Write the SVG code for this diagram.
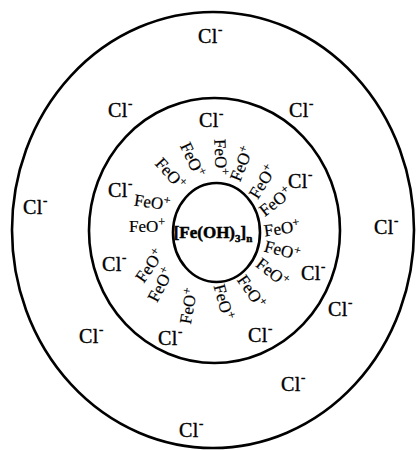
<svg xmlns="http://www.w3.org/2000/svg" width="416" height="450" viewBox="0 0 416 450">
<style>
.ring{fill:none;stroke:#000;stroke-width:2.6}
.cl{font-family:"Liberation Serif","Times New Roman",serif;font-size:20px;fill:#000;stroke:#000;stroke-width:0.4;letter-spacing:0.5px}
.sup{font-size:13px}
.fe{font-family:"Liberation Serif","Times New Roman",serif;font-size:17px;fill:#000;text-anchor:middle;stroke:#000;stroke-width:0.2}
.fsup{font-size:12px}
.core{font-family:"Liberation Serif","Times New Roman",serif;font-size:17px;font-weight:bold;fill:#000;text-anchor:middle;stroke:#000;stroke-width:0.5}
.sub{font-size:11px}
</style>
<rect width="416" height="450" fill="#fff"/>
<g id="outer-shell">
<ellipse class="ring" cx="213" cy="230" rx="201" ry="218"/>
</g>
<g id="middle-shell">
<ellipse class="ring" cx="214.5" cy="230.5" rx="125.5" ry="132.5"/>
</g>
<g id="core">
<ellipse class="ring" cx="216.5" cy="232.5" rx="43.5" ry="49.5" stroke-width="2.2"/>
<text class="core" x="213" y="238">[Fe(OH)<tspan class="sub" dy="4">3</tspan><tspan dy="-4">]</tspan><tspan class="sub" dy="4">n</tspan></text>
</g>
<g id="chloride-ions">
<text class="cl" x="198" y="43">Cl<tspan class="sup" dy="-9">-</tspan></text>
<text class="cl" x="108" y="117">Cl<tspan class="sup" dy="-9">-</tspan></text>
<text class="cl" x="199" y="127">Cl<tspan class="sup" dy="-9">-</tspan></text>
<text class="cl" x="289" y="117">Cl<tspan class="sup" dy="-9">-</tspan></text>
<text class="cl" x="23" y="214">Cl<tspan class="sup" dy="-9">-</tspan></text>
<text class="cl" x="108" y="197">Cl<tspan class="sup" dy="-9">-</tspan></text>
<text class="cl" x="288" y="188">Cl<tspan class="sup" dy="-9">-</tspan></text>
<text class="cl" x="374" y="234">Cl<tspan class="sup" dy="-9">-</tspan></text>
<text class="cl" x="102" y="271">Cl<tspan class="sup" dy="-9">-</tspan></text>
<text class="cl" x="301" y="280">Cl<tspan class="sup" dy="-9">-</tspan></text>
<text class="cl" x="328" y="316">Cl<tspan class="sup" dy="-9">-</tspan></text>
<text class="cl" x="79" y="343">Cl<tspan class="sup" dy="-9">-</tspan></text>
<text class="cl" x="158" y="345">Cl<tspan class="sup" dy="-9">-</tspan></text>
<text class="cl" x="248" y="342">Cl<tspan class="sup" dy="-9">-</tspan></text>
<text class="cl" x="281" y="391">Cl<tspan class="sup" dy="-9">-</tspan></text>
<text class="cl" x="179" y="437">Cl<tspan class="sup" dy="-9">-</tspan></text>
</g>
<g id="ferric-oxy-ions">
<text class="fe" transform="translate(152,203) rotate(8)" y="5">FeO<tspan class="fsup" dy="-6">+</tspan></text>
<text class="fe" transform="translate(147,227)" y="5">FeO<tspan class="fsup" dy="-6">+</tspan></text>
<text class="fe" transform="translate(170,174) rotate(48)" y="5">FeO<tspan class="fsup" dy="-6">+</tspan></text>
<text class="fe" transform="translate(192,160) rotate(65)" y="5">FeO<tspan class="fsup" dy="-6">+</tspan></text>
<text class="fe" transform="translate(220,157) rotate(88)" y="5">FeO<tspan class="fsup" dy="-6">+</tspan></text>
<text class="fe" transform="translate(242,164) rotate(-68)" y="5">FeO<tspan class="fsup" dy="-6">+</tspan></text>
<text class="fe" transform="translate(263,182) rotate(-58)" y="5">FeO<tspan class="fsup" dy="-6">+</tspan></text>
<text class="fe" transform="translate(276,202) rotate(-38)" y="5">FeO<tspan class="fsup" dy="-6">+</tspan></text>
<text class="fe" transform="translate(282,229) rotate(-8)" y="5">FeO<tspan class="fsup" dy="-6">+</tspan></text>
<text class="fe" transform="translate(282,251) rotate(15)" y="5">FeO<tspan class="fsup" dy="-6">+</tspan></text>
<text class="fe" transform="translate(272,273) rotate(38)" y="5">FeO<tspan class="fsup" dy="-6">+</tspan></text>
<text class="fe" transform="translate(251,292) rotate(55)" y="5">FeO<tspan class="fsup" dy="-6">+</tspan></text>
<text class="fe" transform="translate(223,302) rotate(75)" y="5">FeO<tspan class="fsup" dy="-6">+</tspan></text>
<text class="fe" transform="translate(189,306) rotate(-80)" y="5">FeO<tspan class="fsup" dy="-6">+</tspan></text>
<text class="fe" transform="translate(161,285) rotate(-62)" y="5">FeO<tspan class="fsup" dy="-6">+</tspan></text>
<text class="fe" transform="translate(150,266) rotate(-55)" y="5">FeO<tspan class="fsup" dy="-6">+</tspan></text>
</g>
</svg>
